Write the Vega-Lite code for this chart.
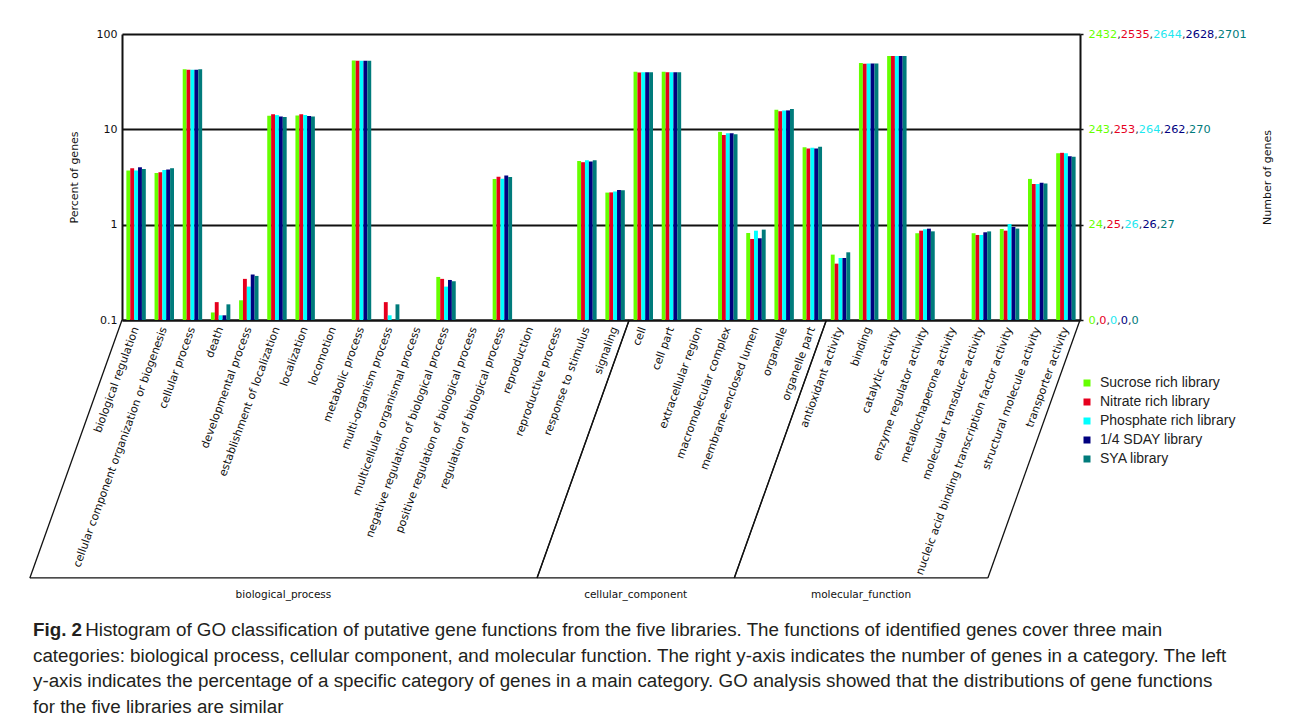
{
  "$schema": "https://vega.github.io/schema/vega-lite/v6.json",
  "autosize": {"type": "none"},
  "width": 958,
  "height": 286,
  "padding": {"left": 122, "top": 34, "right": 212, "bottom": 406},
  "background": "white",
  "config": {"view": {"stroke": null}},
  "title": {
    "text": "Fig. 2",
    "subtitle": [
      "\u200b\u00a0\u00a0\u00a0\u00a0\u00a0\u00a0\u00a0\u00a0\u00a0\u00a0Histogram of GO classification of putative gene functions from the five libraries. The functions of identified genes cover three main",
      "categories: biological process, cellular component, and molecular function. The right y-axis indicates the number of genes in a category. The left",
      "y-axis indicates the percentage of a specific category of genes in a main category. GO analysis showed that the distributions of gene functions",
      "for the five libraries are similar"
    ],
    "orient": "bottom",
    "anchor": "start",
    "frame": "group",
    "dx": -89,
    "offset": 21,
    "font": "Liberation Sans",
    "fontSize": 18.8,
    "fontWeight": "bold",
    "color": "#231f20",
    "subtitleFont": "Liberation Sans",
    "subtitleFontSize": 18.8,
    "subtitleFontWeight": "normal",
    "subtitleColor": "#231f20",
    "subtitleLineHeight": 25.5,
    "subtitlePadding": -18.8
  },
  "datasets": {
    "groups": [
      {"group": "biological_process", "start": 0, "end": 18},
      {"group": "cellular_component", "start": 18, "end": 25},
      {"group": "molecular_function", "start": 25, "end": 34}
    ],
    "go": [
      {"term": "biological regulation", "library": "Sucrose rich library", "percent": 3.69},
      {"term": "biological regulation", "library": "Nitrate rich library", "percent": 3.91},
      {"term": "biological regulation", "library": "Phosphate rich library", "percent": 3.69},
      {"term": "biological regulation", "library": "1/4 SDAY library", "percent": 4.0},
      {"term": "biological regulation", "library": "SYA library", "percent": 3.84},
      {"term": "cellular component organization or biogenesis", "library": "Sucrose rich library", "percent": 3.49},
      {"term": "cellular component organization or biogenesis", "library": "Nitrate rich library", "percent": 3.55},
      {"term": "cellular component organization or biogenesis", "library": "Phosphate rich library", "percent": 3.75},
      {"term": "cellular component organization or biogenesis", "library": "1/4 SDAY library", "percent": 3.78},
      {"term": "cellular component organization or biogenesis", "library": "SYA library", "percent": 3.91},
      {"term": "cellular process", "library": "Sucrose rich library", "percent": 42.8},
      {"term": "cellular process", "library": "Nitrate rich library", "percent": 42.2},
      {"term": "cellular process", "library": "Phosphate rich library", "percent": 42.2},
      {"term": "cellular process", "library": "1/4 SDAY library", "percent": 42.2},
      {"term": "cellular process", "library": "SYA library", "percent": 42.8},
      {"term": "death", "library": "Sucrose rich library", "percent": 0.12},
      {"term": "death", "library": "Nitrate rich library", "percent": 0.154},
      {"term": "death", "library": "Phosphate rich library", "percent": 0.112},
      {"term": "death", "library": "1/4 SDAY library", "percent": 0.112},
      {"term": "death", "library": "SYA library", "percent": 0.146},
      {"term": "developmental process", "library": "Sucrose rich library", "percent": 0.161},
      {"term": "developmental process", "library": "Nitrate rich library", "percent": 0.27},
      {"term": "developmental process", "library": "Phosphate rich library", "percent": 0.224},
      {"term": "developmental process", "library": "1/4 SDAY library", "percent": 0.3},
      {"term": "developmental process", "library": "SYA library", "percent": 0.29},
      {"term": "establishment of localization", "library": "Sucrose rich library", "percent": 13.9},
      {"term": "establishment of localization", "library": "Nitrate rich library", "percent": 14.4},
      {"term": "establishment of localization", "library": "Phosphate rich library", "percent": 14.1},
      {"term": "establishment of localization", "library": "1/4 SDAY library", "percent": 13.6},
      {"term": "establishment of localization", "library": "SYA library", "percent": 13.5},
      {"term": "localization", "library": "Sucrose rich library", "percent": 14.0},
      {"term": "localization", "library": "Nitrate rich library", "percent": 14.4},
      {"term": "localization", "library": "Phosphate rich library", "percent": 14.1},
      {"term": "localization", "library": "1/4 SDAY library", "percent": 13.8},
      {"term": "localization", "library": "SYA library", "percent": 13.6},
      {"term": "metabolic process", "library": "Sucrose rich library", "percent": 52.8},
      {"term": "metabolic process", "library": "Nitrate rich library", "percent": 52.3},
      {"term": "metabolic process", "library": "Phosphate rich library", "percent": 52.3},
      {"term": "metabolic process", "library": "1/4 SDAY library", "percent": 52.3},
      {"term": "metabolic process", "library": "SYA library", "percent": 52.5},
      {"term": "multi-organism process", "library": "Nitrate rich library", "percent": 0.154},
      {"term": "multi-organism process", "library": "Phosphate rich library", "percent": 0.112},
      {"term": "multi-organism process", "library": "SYA library", "percent": 0.146},
      {"term": "negative regulation of biological process", "library": "Sucrose rich library", "percent": 0.283},
      {"term": "negative regulation of biological process", "library": "Nitrate rich library", "percent": 0.27},
      {"term": "negative regulation of biological process", "library": "Phosphate rich library", "percent": 0.224},
      {"term": "negative regulation of biological process", "library": "1/4 SDAY library", "percent": 0.263},
      {"term": "negative regulation of biological process", "library": "SYA library", "percent": 0.255},
      {"term": "regulation of biological process", "library": "Sucrose rich library", "percent": 3.02},
      {"term": "regulation of biological process", "library": "Nitrate rich library", "percent": 3.19},
      {"term": "regulation of biological process", "library": "Phosphate rich library", "percent": 3.04},
      {"term": "regulation of biological process", "library": "1/4 SDAY library", "percent": 3.27},
      {"term": "regulation of biological process", "library": "SYA library", "percent": 3.16},
      {"term": "response to stimulus", "library": "Sucrose rich library", "percent": 4.66},
      {"term": "response to stimulus", "library": "Nitrate rich library", "percent": 4.52},
      {"term": "response to stimulus", "library": "Phosphate rich library", "percent": 4.75},
      {"term": "response to stimulus", "library": "1/4 SDAY library", "percent": 4.6},
      {"term": "response to stimulus", "library": "SYA library", "percent": 4.75},
      {"term": "signaling", "library": "Sucrose rich library", "percent": 2.17},
      {"term": "signaling", "library": "Nitrate rich library", "percent": 2.18},
      {"term": "signaling", "library": "Phosphate rich library", "percent": 2.23},
      {"term": "signaling", "library": "1/4 SDAY library", "percent": 2.31},
      {"term": "signaling", "library": "SYA library", "percent": 2.29},
      {"term": "cell", "library": "Sucrose rich library", "percent": 40.3},
      {"term": "cell", "library": "Nitrate rich library", "percent": 39.5},
      {"term": "cell", "library": "Phosphate rich library", "percent": 39.7},
      {"term": "cell", "library": "1/4 SDAY library", "percent": 39.7},
      {"term": "cell", "library": "SYA library", "percent": 39.7},
      {"term": "cell part", "library": "Sucrose rich library", "percent": 40.3},
      {"term": "cell part", "library": "Nitrate rich library", "percent": 39.7},
      {"term": "cell part", "library": "Phosphate rich library", "percent": 39.7},
      {"term": "cell part", "library": "1/4 SDAY library", "percent": 39.7},
      {"term": "cell part", "library": "SYA library", "percent": 39.7},
      {"term": "macromolecular complex", "library": "Sucrose rich library", "percent": 9.4},
      {"term": "macromolecular complex", "library": "Nitrate rich library", "percent": 8.73},
      {"term": "macromolecular complex", "library": "Phosphate rich library", "percent": 9.1},
      {"term": "macromolecular complex", "library": "1/4 SDAY library", "percent": 9.1},
      {"term": "macromolecular complex", "library": "SYA library", "percent": 8.9},
      {"term": "membrane-enclosed lumen", "library": "Sucrose rich library", "percent": 0.818},
      {"term": "membrane-enclosed lumen", "library": "Nitrate rich library", "percent": 0.708},
      {"term": "membrane-enclosed lumen", "library": "Phosphate rich library", "percent": 0.865},
      {"term": "membrane-enclosed lumen", "library": "1/4 SDAY library", "percent": 0.72},
      {"term": "membrane-enclosed lumen", "library": "SYA library", "percent": 0.887},
      {"term": "organelle", "library": "Sucrose rich library", "percent": 16.0},
      {"term": "organelle", "library": "Nitrate rich library", "percent": 15.5},
      {"term": "organelle", "library": "Phosphate rich library", "percent": 15.8},
      {"term": "organelle", "library": "1/4 SDAY library", "percent": 15.8},
      {"term": "organelle", "library": "SYA library", "percent": 16.3},
      {"term": "organelle part", "library": "Sucrose rich library", "percent": 6.49},
      {"term": "organelle part", "library": "Nitrate rich library", "percent": 6.28},
      {"term": "organelle part", "library": "Phosphate rich library", "percent": 6.4},
      {"term": "organelle part", "library": "1/4 SDAY library", "percent": 6.28},
      {"term": "organelle part", "library": "SYA library", "percent": 6.56},
      {"term": "antioxidant activity", "library": "Sucrose rich library", "percent": 0.485},
      {"term": "antioxidant activity", "library": "Nitrate rich library", "percent": 0.39},
      {"term": "antioxidant activity", "library": "Phosphate rich library", "percent": 0.447},
      {"term": "antioxidant activity", "library": "1/4 SDAY library", "percent": 0.447},
      {"term": "antioxidant activity", "library": "SYA library", "percent": 0.513},
      {"term": "binding", "library": "Sucrose rich library", "percent": 49.7},
      {"term": "binding", "library": "Nitrate rich library", "percent": 48.6},
      {"term": "binding", "library": "Phosphate rich library", "percent": 48.9},
      {"term": "binding", "library": "1/4 SDAY library", "percent": 48.9},
      {"term": "binding", "library": "SYA library", "percent": 48.9},
      {"term": "catalytic activity", "library": "Sucrose rich library", "percent": 58.9},
      {"term": "catalytic activity", "library": "Nitrate rich library", "percent": 58.9},
      {"term": "catalytic activity", "library": "Phosphate rich library", "percent": 58.9},
      {"term": "catalytic activity", "library": "1/4 SDAY library", "percent": 58.9},
      {"term": "catalytic activity", "library": "SYA library", "percent": 58.9},
      {"term": "enzyme regulator activity", "library": "Sucrose rich library", "percent": 0.813},
      {"term": "enzyme regulator activity", "library": "Nitrate rich library", "percent": 0.865},
      {"term": "enzyme regulator activity", "library": "Phosphate rich library", "percent": 0.894},
      {"term": "enzyme regulator activity", "library": "1/4 SDAY library", "percent": 0.908},
      {"term": "enzyme regulator activity", "library": "SYA library", "percent": 0.851},
      {"term": "molecular transducer activity", "library": "Sucrose rich library", "percent": 0.813},
      {"term": "molecular transducer activity", "library": "Nitrate rich library", "percent": 0.78},
      {"term": "molecular transducer activity", "library": "Phosphate rich library", "percent": 0.78},
      {"term": "molecular transducer activity", "library": "1/4 SDAY library", "percent": 0.832},
      {"term": "molecular transducer activity", "library": "SYA library", "percent": 0.85},
      {"term": "nucleic acid binding transcription factor activity", "library": "Sucrose rich library", "percent": 0.9},
      {"term": "nucleic acid binding transcription factor activity", "library": "Nitrate rich library", "percent": 0.865},
      {"term": "nucleic acid binding transcription factor activity", "library": "Phosphate rich library", "percent": 1.016},
      {"term": "nucleic acid binding transcription factor activity", "library": "1/4 SDAY library", "percent": 0.946},
      {"term": "nucleic acid binding transcription factor activity", "library": "SYA library", "percent": 0.91},
      {"term": "structural molecule activity", "library": "Sucrose rich library", "percent": 3.02},
      {"term": "structural molecule activity", "library": "Nitrate rich library", "percent": 2.67},
      {"term": "structural molecule activity", "library": "Phosphate rich library", "percent": 2.67},
      {"term": "structural molecule activity", "library": "1/4 SDAY library", "percent": 2.76},
      {"term": "structural molecule activity", "library": "SYA library", "percent": 2.7},
      {"term": "transporter activity", "library": "Sucrose rich library", "percent": 5.61},
      {"term": "transporter activity", "library": "Nitrate rich library", "percent": 5.67},
      {"term": "transporter activity", "library": "Phosphate rich library", "percent": 5.61},
      {"term": "transporter activity", "library": "1/4 SDAY library", "percent": 5.22},
      {"term": "transporter activity", "library": "SYA library", "percent": 5.17}
    ]
  },
  "data": {"name": "go"},
  "resolve": {"scale": {"x": "independent", "xOffset": "independent", "y": "shared"}, "axis": {"x": "independent", "y": "independent"}},
  "layer": [
    {
      "mark": {"type": "bar"},
      "encoding": {
        "x": {
          "field": "term", "type": "nominal",
          "sort": ["biological regulation","cellular component organization or biogenesis","cellular process","death","developmental process","establishment of localization","localization","locomotion","metabolic process","multi-organism process","multicellular organismal process","negative regulation of biological process","positive regulation of biological process","regulation of biological process","reproduction","reproductive process","response to stimulus","signaling","cell","cell part","extracellular region","macromolecular complex","membrane-enclosed lumen","organelle","organelle part","antioxidant activity","binding","catalytic activity","enzyme regulator activity","metallochaperone activity","molecular transducer activity","nucleic acid binding transcription factor activity","structural molecule activity","transporter activity"],
          "scale": {
            "domain": ["biological regulation","cellular component organization or biogenesis","cellular process","death","developmental process","establishment of localization","localization","locomotion","metabolic process","multi-organism process","multicellular organismal process","negative regulation of biological process","positive regulation of biological process","regulation of biological process","reproduction","reproductive process","response to stimulus","signaling","cell","cell part","extracellular region","macromolecular complex","membrane-enclosed lumen","organelle","organelle part","antioxidant activity","binding","catalytic activity","enzyme regulator activity","metallochaperone activity","molecular transducer activity","nucleic acid binding transcription factor activity","structural molecule activity","transporter activity"],
            "paddingInner": 0.31, "paddingOuter": 0.155
          },
          "axis": {
            "title": null, "labelAngle": -70, "labelFont": "DejaVu Sans", "labelFontSize": 11,
            "labelColor": "#111111", "labelLimit": 400, "ticks": false, "domainColor": "#111111",
            "domainWidth": 2, "labelPadding": 7, "labelOverlap": false
          }
        },
        "xOffset": {
          "field": "library", "type": "nominal",
          "sort": ["Sucrose rich library", "Nitrate rich library", "Phosphate rich library", "1/4 SDAY library", "SYA library"],
          "scale": {"paddingInner": 0, "paddingOuter": 0}
        },
        "y": {
          "field": "percent", "type": "quantitative",
          "scale": {"type": "log", "domain": [0.1, 100], "nice": false},
          "axis": {
            "orient": "left", "values": [0.1, 1, 10, 100],
            "labelExpr": "datum.value < 0.5 ? '0.1' : format(datum.value, 'd')",
            "grid": true, "gridColor": "#111111", "gridWidth": 2, "gridOpacity": 1,
            "domainColor": "#111111", "domainWidth": 2, "ticks": false, "labelPadding": 5,
            "labelFont": "DejaVu Sans", "labelFontSize": 11, "labelColor": "#111111",
            "title": "Percent of genes", "titleFont": "DejaVu Sans", "titleFontSize": 11,
            "titleFontWeight": "normal", "titleColor": "#111111", "titlePadding": 17
          }
        },
        "y2": {"datum": 0.1},
        "color": {
          "field": "library", "type": "nominal",
          "scale": {
            "domain": ["Sucrose rich library", "Nitrate rich library", "Phosphate rich library", "1/4 SDAY library", "SYA library"],
            "range": ["#66ff00", "#e6001e", "#00ffff", "#00007f", "#007b7b"]
          },
          "legend": {
            "orient": "none", "legendX": 958, "legendY": 342, "title": null, "symbolType": "square",
            "symbolSize": 49, "symbolStrokeWidth": 0, "labelFont": "Liberation Sans", "labelFontSize": 14,
            "labelColor": "#222222", "rowPadding": 5, "labelOffset": 6, "padding": 0
          }
        }
      }
    },
    {
      "mark": {"type": "point", "opacity": 0},
      "encoding": {
        "y": {
          "field": "percent", "type": "quantitative",
          "scale": {"type": "log", "domain": [0.1, 100], "nice": false},
          "axis": {
            "orient": "right", "values": [0.1, 1, 10, 100], "grid": false,
            "domain": true, "domainColor": "#111111", "domainWidth": 2,
            "ticks": true, "tickSize": 3, "tickColor": "#111111", "tickWidth": 1.5,
            "labelPadding": 5, "labelFont": "DejaVu Sans", "labelFontSize": 11.3, "labelColor": "#007b7b", "labelOverlap": false,
            "labelExpr": "datum.value > 50 ? '\u200b\u2007\u2007\u2007\u2007\u00a0\u2007\u2007\u2007\u2007\u00a0\u2007\u2007\u2007\u2007\u00a0\u2007\u2007\u2007\u2007\u00a02701' : datum.value > 5 ? '\u200b\u2007\u2007\u2007\u00a0\u2007\u2007\u2007\u00a0\u2007\u2007\u2007\u00a0\u2007\u2007\u2007\u00a0270' : datum.value > 0.5 ? '\u200b\u2007\u2007\u00a0\u2007\u2007\u00a0\u2007\u2007\u00a0\u2007\u2007\u00a027' : '\u200b\u2007\u00a0\u2007\u00a0\u2007\u00a0\u2007\u00a00'",
            "title": "Number of genes", "titleAngle": 270, "titleBaseline": "top", "titleFont": "DejaVu Sans",
            "titleFontSize": 11, "titleFontWeight": "normal", "titleColor": "#111111", "titlePadding": 15
          }
        }
      }
    },
    {
      "mark": {"type": "point", "opacity": 0},
      "encoding": {
        "y": {
          "field": "percent", "type": "quantitative",
          "scale": {"type": "log", "domain": [0.1, 100], "nice": false},
          "axis": {
            "orient": "right", "values": [0.1, 1, 10, 100], "grid": false, "domain": false, "ticks": false,
            "labelPadding": 8, "labelFont": "DejaVu Sans", "labelFontSize": 11.3, "labelColor": "#00007f", "labelOverlap": false,
            "labelExpr": "datum.value > 50 ? '\u200b\u2007\u2007\u2007\u2007\u00a0\u2007\u2007\u2007\u2007\u00a0\u2007\u2007\u2007\u2007\u00a02628' : datum.value > 5 ? '\u200b\u2007\u2007\u2007\u00a0\u2007\u2007\u2007\u00a0\u2007\u2007\u2007\u00a0262' : datum.value > 0.5 ? '\u200b\u2007\u2007\u00a0\u2007\u2007\u00a0\u2007\u2007\u00a026' : '\u200b\u2007\u00a0\u2007\u00a0\u2007\u00a00'",
            "title": null
          }
        }
      }
    },
    {
      "mark": {"type": "point", "opacity": 0},
      "encoding": {
        "y": {
          "field": "percent", "type": "quantitative",
          "scale": {"type": "log", "domain": [0.1, 100], "nice": false},
          "axis": {
            "orient": "right", "values": [0.1, 1, 10, 100], "grid": false, "domain": false, "ticks": false,
            "labelPadding": 8, "labelFont": "DejaVu Sans", "labelFontSize": 11.3, "labelColor": "#1ee8f0", "labelOverlap": false,
            "labelExpr": "datum.value > 50 ? '\u200b\u2007\u2007\u2007\u2007\u00a0\u2007\u2007\u2007\u2007\u00a02644' : datum.value > 5 ? '\u200b\u2007\u2007\u2007\u00a0\u2007\u2007\u2007\u00a0264' : datum.value > 0.5 ? '\u200b\u2007\u2007\u00a0\u2007\u2007\u00a026' : '\u200b\u2007\u00a0\u2007\u00a00'",
            "title": null
          }
        }
      }
    },
    {
      "mark": {"type": "point", "opacity": 0},
      "encoding": {
        "y": {
          "field": "percent", "type": "quantitative",
          "scale": {"type": "log", "domain": [0.1, 100], "nice": false},
          "axis": {
            "orient": "right", "values": [0.1, 1, 10, 100], "grid": false, "domain": false, "ticks": false,
            "labelPadding": 8, "labelFont": "DejaVu Sans", "labelFontSize": 11.3, "labelColor": "#e6001e", "labelOverlap": false,
            "labelExpr": "datum.value > 50 ? '\u200b\u2007\u2007\u2007\u2007\u00a02535' : datum.value > 5 ? '\u200b\u2007\u2007\u2007\u00a0253' : datum.value > 0.5 ? '\u200b\u2007\u2007\u00a025' : '\u200b\u2007\u00a00'",
            "title": null
          }
        }
      }
    },
    {
      "mark": {"type": "point", "opacity": 0},
      "encoding": {
        "y": {
          "field": "percent", "type": "quantitative",
          "scale": {"type": "log", "domain": [0.1, 100], "nice": false},
          "axis": {
            "orient": "right", "values": [0.1, 1, 10, 100], "grid": false, "domain": false, "ticks": false,
            "labelPadding": 8, "labelFont": "DejaVu Sans", "labelFontSize": 11.3, "labelColor": "#66ff00", "labelOverlap": false,
            "labelExpr": "datum.value > 50 ? '2432' : datum.value > 5 ? '243' : datum.value > 0.5 ? '24' : '0'",
            "title": null
          }
        }
      }
    },
    {
      "mark": {"type": "point", "opacity": 0},
      "encoding": {
        "y": {
          "field": "percent", "type": "quantitative",
          "scale": {"type": "log", "domain": [0.1, 100], "nice": false},
          "axis": {
            "orient": "right", "values": [0.1, 1, 10, 100], "grid": false, "domain": false, "ticks": false,
            "labelPadding": 8, "labelFont": "DejaVu Sans", "labelFontSize": 11.3, "labelColor": "#333344", "labelOverlap": false,
            "labelExpr": "datum.value > 50 ? '\u200b\u2007\u2007\u2007\u2007,\u2007\u2007\u2007\u2007,\u2007\u2007\u2007\u2007,\u2007\u2007\u2007\u2007,' : datum.value > 5 ? '\u200b\u2007\u2007\u2007,\u2007\u2007\u2007,\u2007\u2007\u2007,\u2007\u2007\u2007,' : datum.value > 0.5 ? '\u200b\u2007\u2007,\u2007\u2007,\u2007\u2007,\u2007\u2007,' : '\u200b\u2007,\u2007,\u2007,\u2007,'",
            "title": null
          }
        }
      }
    },
    {
      "data": {"name": "groups"},
      "transform": [
        {"calculate": "datum.start - 3.27", "as": "startLow"},
        {"calculate": "datum.end - 3.27", "as": "endLow"},
        {"calculate": "0.1", "as": "top"},
        {"calculate": "0.000197", "as": "bottom"}
      ],
      "layer": [
        {
          "mark": {"type": "rule", "color": "#111111", "strokeWidth": 1.3},
          "encoding": {
            "x": {"field": "start", "type": "quantitative", "scale": {"domain": [0, 34], "nice": false, "zero": false}, "axis": null},
            "x2": {"field": "startLow"},
            "y": {"field": "top", "type": "quantitative", "scale": {"type": "log", "domain": [0.1, 100], "nice": false}, "axis": null},
            "y2": {"field": "bottom"}
          }
        },
        {
          "mark": {"type": "rule", "color": "#111111", "strokeWidth": 1.3},
          "encoding": {
            "x": {"field": "end", "type": "quantitative", "scale": {"domain": [0, 34], "nice": false, "zero": false}, "axis": null},
            "x2": {"field": "endLow"},
            "y": {"field": "top", "type": "quantitative", "scale": {"type": "log", "domain": [0.1, 100], "nice": false}, "axis": null},
            "y2": {"field": "bottom"}
          }
        },
        {
          "mark": {"type": "rule", "color": "#111111", "strokeWidth": 1.3},
          "encoding": {
            "x": {"field": "startLow", "type": "quantitative", "scale": {"domain": [0, 34], "nice": false, "zero": false}, "axis": null},
            "x2": {"field": "endLow"},
            "y": {"field": "bottom", "type": "quantitative", "scale": {"type": "log", "domain": [0.1, 100], "nice": false}, "axis": null}
          }
        },
        {
          "transform": [{"calculate": "(datum.startLow + datum.endLow) / 2", "as": "mid"}],
          "mark": {"type": "text", "font": "DejaVu Sans", "fontSize": 10.5, "color": "#111111", "baseline": "middle", "align": "center", "dy": 17},
          "encoding": {
            "x": {"field": "mid", "type": "quantitative", "scale": {"domain": [0, 34], "nice": false, "zero": false}, "axis": null},
            "y": {"field": "bottom", "type": "quantitative", "scale": {"type": "log", "domain": [0.1, 100], "nice": false}, "axis": null},
            "text": {"field": "group"}
          }
        }
      ]
    }
  ]
}
